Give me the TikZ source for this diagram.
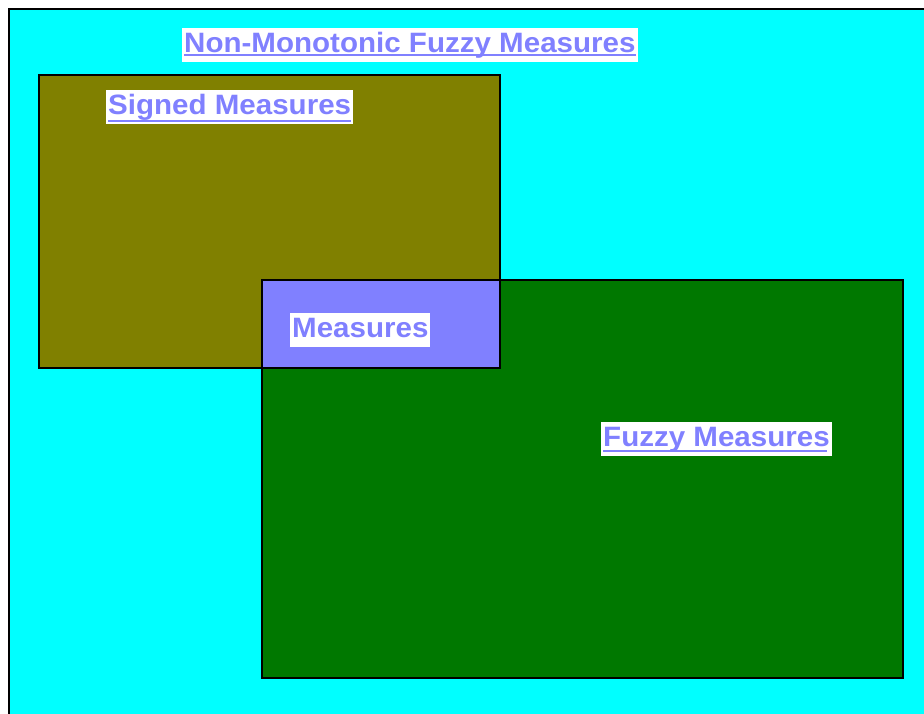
\documentclass[tikz,border=0pt]{standalone}
\usepackage{fontspec}
\newfontfamily\labelfont{Liberation Sans Bold}[FakeStretch=1.055]
\usepackage{tikz}
\usetikzlibrary{calc}

\definecolor{bgcyan}{RGB}{0,255,255}
\definecolor{signedolive}{RGB}{128,128,0}
\definecolor{fuzzygreen}{RGB}{0,120,0}
\definecolor{measblue}{RGB}{128,128,255}

\tikzset{
  setlabel/.style={fill=white, text=measblue, anchor=base west,
    font=\labelfont\fontsize{28}{31}\selectfont,
    text height=21pt, text depth=6pt, inner xsep=2pt, inner ysep=3.5pt},
  uline/.style={measblue, line width=2pt},
  border/.style={black, line width=2.8pt}
}

\begin{document}
\begin{tikzpicture}[x=1pt,y=-1pt]

\useasboundingbox (0,0) rectangle (924,713);
\clip (0,0) rectangle (924,713);
\fill[white] (0,0) rectangle (924,713);

% Non-monotonic fuzzy measures (whole plane)
\fill[bgcyan] (9,9) rectangle (940,730);
\draw[border] (9,730) -- (9,9) -- (940,9);

% Signed measures
\fill[signedolive] (39,75) rectangle (500,368);
% Fuzzy measures
\fill[fuzzygreen]  (262,280) rectangle (903,678);
% Measures = both
\fill[measblue]    (262,280) rectangle (500,368);

\draw[border] (39,75) rectangle (500,368);
\draw[border] (262,280) rectangle (903,678);

% ---- Labels ----
\node[setlabel] (nonmono) at (182,52)  {Non-Monotonic Fuzzy Measures};
\node[setlabel] (signed)  at (106,114.5) {Signed Measures};
\node[setlabel] (meas)    at (290,337) {Measures\hspace{5pt}};
\node[setlabel] (fuzzy)   at (601,446) {Fuzzy Measures\hspace{3pt}};

\draw[uline] ([xshift=2pt,yshift=-3pt]nonmono.base west) -- ([xshift=-2pt,yshift=-3pt]nonmono.base east);
\draw[uline] ([xshift=2pt,yshift=-6pt]signed.base west) -- ([xshift=-2pt,yshift=-6pt]signed.base east);
\draw[uline] ([xshift=2pt,yshift=-5pt]fuzzy.base west) -- ([xshift=-5pt,yshift=-5pt]fuzzy.base east);

\end{tikzpicture}
\end{document}
